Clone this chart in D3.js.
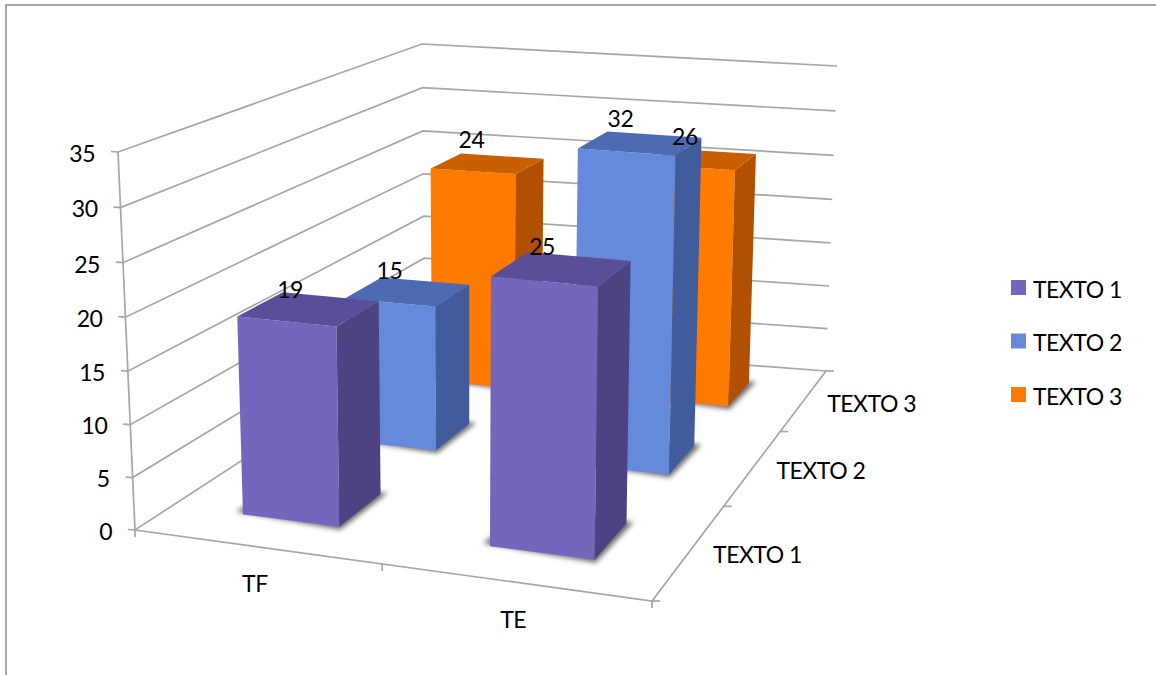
<!DOCTYPE html>
<html>
<head>
<meta charset="utf-8">
<script src="https://cdn.jsdelivr.net/npm/d3@7"></script>
<style>
  html, body { margin: 0; padding: 0; background: #fff; }
  svg { display: block; }
  text { font-family: Lato, sans-serif; font-size: 23px; letter-spacing: -0.5px; fill: #000; }
</style>
</head>
<body>
<svg id="chart" width="1156" height="675"></svg>
<script>
const categories = ["TF", "TE"];
const seriesNames = ["TEXTO 1", "TEXTO 2", "TEXTO 3"];
const texto1 = [19, 25];
const texto2 = [15, 32];
const texto3 = [24, 26];
const seriesValues = [texto1, texto2, texto3];
const valueTicks = [0, 5, 10, 15, 20, 25, 30, 35];

const frontColors = ["#7367bd", "#668adb", "#ff7b00"];
const sideColors = ["#4e4382", "#405c9c", "#b05000"];
const topColors = ["#5a4e98", "#4c6bb3", "#c96000"];
const gridColor = "#a6a6a6";

// corners of the plot box on screen: front-left, front-right, back-right, back-left
const floorQuad = [[135, 530], [652, 601], [826, 371], [425, 341]];
const ceilQuad = [[118, 152], [658, 198], [837, 66], [422, 44]];

// data labels do not sit on one rule in the original, nudge per series/category
const labelShift = [
  [[-7, 6], [-1, 4]],
  [[-5, 2], [-1, -3]],
  [[-2, -4], [2, -3]]
];

// unit square -> quad, perspective
function quadMap(q) {
  const [x0, y0] = q[0], [x1, y1] = q[1], [x2, y2] = q[2], [x3, y3] = q[3];
  const dx1 = x1 - x2, dx2 = x3 - x2, sx = x0 - x1 + x2 - x3;
  const dy1 = y1 - y2, dy2 = y3 - y2, sy = y0 - y1 + y2 - y3;
  const den = dx1 * dy2 - dx2 * dy1;
  const g = (sx * dy2 - dx2 * sy) / den;
  const h = (dx1 * sy - sx * dy1) / den;
  const a = x1 - x0 + g * x1, b = x3 - x0 + h * x3;
  const d = y1 - y0 + g * y1, e = y3 - y0 + h * y3;
  return (u, v) => {
    const w = g * u + h * v + 1;
    return [(a * u + b * v + x0) / w, (d * u + e * v + y0) / w];
  };
}

const floorMap = quadMap(floorQuad);
const ceilMap = quadMap(ceilQuad);

const x = d3.scaleBand().domain(categories).range([0, 1]).paddingInner(0.6).paddingOuter(0.3);
const z = d3.scaleBand().domain(seriesNames).range([0, 1]).paddingInner(0.6).paddingOuter(0.3);
const y = d3.scaleLinear().domain([0, 35]).range([0, 1]);

function project(u, v, value) {
  const t = y(value);
  const tt = t / (t + (1 - t) * 1.035); // upper gridlines are spaced a bit wider
  const a = floorMap(u + 0.055 * u * (1 - u), v);
  const b = ceilMap(u + 0.065 * u * (1 - u), v);
  return [a[0] + (b[0] - a[0]) * tt, a[1] + (b[1] - a[1]) * tt];
}

const svg = d3.select("#chart");
const line = d3.line();

// outer frame, right and bottom fall off the picture
svg.append("path")
  .attr("d", line([[6, 675], [6, 5], [1156, 5]]))
  .attr("fill", "none").attr("stroke", "#8c8c8c").attr("stroke-width", 1.5);

const defs = svg.append("defs");
defs.append("filter").attr("id", "soft")
  .attr("x", "-20%").attr("y", "-20%").attr("width", "140%").attr("height", "140%")
  .append("feGaussianBlur").attr("stdDeviation", 2.5);

const grid = svg.append("g").attr("fill", "none").attr("stroke", gridColor).attr("stroke-width", 1.7);

valueTicks.forEach(t => {
  grid.append("path").attr("d", line([
    [project(0, 0, t)[0] - 7, project(0, 0, t)[1] - 0.5],
    project(0, 0, t), project(0, 1, t), project(1, 1, t)
  ]));
});
grid.append("path").attr("d", line([project(0, 0, 0), project(0, 0, 35)]));
grid.append("path").attr("d", line([project(0, 0, 0), project(1, 0, 0), project(1, 1, 0)]));

// small ticks on the floor edges
[0, 0.5, 1].forEach(u => {
  const p = project(u, 0, 0);
  grid.append("path").attr("d", line([p, [p[0], p[1] + 7]]));
});
[0, 1 / 3, 2 / 3, 1].forEach(v => {
  const p = project(1, v, 0);
  grid.append("path").attr("d", line([p, [p[0] + 8, p[1]]]));
});

// back rows first so the front ones cover them
const rows = svg.append("g");
d3.range(seriesNames.length - 1, -1, -1).forEach(s => {
  const z0 = z(seriesNames[s]), z1 = z0 + z.bandwidth();
  categories.forEach((cat, c) => {
    const x0 = x(cat), x1 = x0 + x.bandwidth();
    const val = seriesValues[s][c];
    const g = rows.append("g");

    const foot = [project(x0, z0, 0), project(x1, z0, 0), project(x1, z1, 0), project(x0, z1, 0)];
    g.append("path")
      .attr("d", line([
        [foot[0][0] - 7, foot[0][1] - 3], [foot[1][0] + 1, foot[1][1] + 3],
        [foot[2][0] + 7, foot[2][1] - 1], foot[3]
      ]) + "Z")
      .attr("fill", "#4a4a4a").attr("opacity", 0.8).attr("filter", "url(#soft)");

    g.append("path")
      .attr("d", line([project(x0, z0, 0), project(x1, z0, 0), project(x1, z0, val), project(x0, z0, val)]) + "Z")
      .attr("fill", frontColors[s]);
    g.append("path")
      .attr("d", line([project(x1, z0, 0), project(x1, z1, 0), project(x1, z1, val), project(x1, z0, val)]) + "Z")
      .attr("fill", sideColors[s]);
    g.append("path")
      .attr("d", line([project(x0, z0, val), project(x1, z0, val), project(x1, z1, val), project(x0, z1, val)]) + "Z")
      .attr("fill", topColors[s]);
  });
});

// data labels go on top of every bar
seriesNames.forEach((name, s) => {
  categories.forEach((cat, c) => {
    const val = seriesValues[s][c];
    const p = project(x(cat) + x.bandwidth() * 0.15, z(name) + z.bandwidth(), val);
    svg.append("text")
      .attr("x", p[0] + labelShift[s][c][0]).attr("y", p[1] - 2 + labelShift[s][c][1])
      .attr("text-anchor", "middle")
      .text(val);
  });
});

valueTicks.forEach(t => {
  const p = project(0, 0, t);
  svg.append("text")
    .attr("x", p[0] - 23).attr("y", p[1] + 4)
    .attr("text-anchor", "end").attr("dominant-baseline", "middle")
    .text(t);
});

categories.forEach(cat => {
  const p = project(x(cat) + x.bandwidth() / 2, 0, 0);
  svg.append("text")
    .attr("x", p[0] - 1).attr("y", p[1] + 40)
    .attr("text-anchor", "middle").attr("dominant-baseline", "middle")
    .text(cat);
});

seriesNames.forEach(name => {
  const p = project(1, z(name) + z.bandwidth() / 2, 0);
  svg.append("text")
    .attr("x", p[0] + 23).attr("y", p[1] + 6)
    .attr("dominant-baseline", "middle")
    .text(name);
});

const legendY = d3.scalePoint().domain(seriesNames).range([288, 395]);
seriesNames.forEach((name, s) => {
  svg.append("rect")
    .attr("x", 1011).attr("y", legendY(name) - 8)
    .attr("width", 15).attr("height", 15)
    .attr("fill", frontColors[s]);
  svg.append("text")
    .attr("x", 1033).attr("y", legendY(name) + 4)
    .attr("dominant-baseline", "middle")
    .text(name);
});
</script>
</body>
</html>
